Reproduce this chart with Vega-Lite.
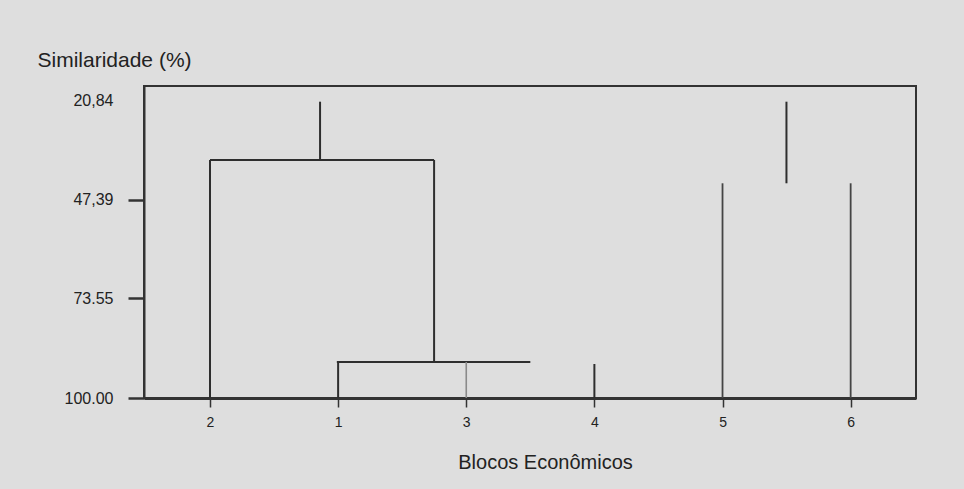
{
  "$schema": "https://vega.github.io/schema/vega-lite/v6.json",
  "width": 772,
  "height": 312,
  "autosize": {"type": "none"},
  "padding": {"left": 144, "top": 86, "right": 48, "bottom": 91},
  "background": "#dedede",
  "config": {
    "view": {"stroke": "#333333", "strokeWidth": 2},
    "font": "Liberation Sans"
  },
  "data": {
    "values": [
      {"tipo": "ramo", "x": 1.859, "x2": 1.859, "y": 21.27, "y2": 36.76},
      {"tipo": "ramo", "x": 1, "x2": 2.749, "y": 36.76, "y2": 36.76},
      {"tipo": "ramo", "x": 1, "x2": 1, "y": 36.76, "y2": 100},
      {"tipo": "ramo", "x": 2.749, "x2": 2.749, "y": 36.76, "y2": 90.43},
      {"tipo": "ramo", "x": 1.99, "x2": 3.5, "y": 90.43, "y2": 90.43},
      {"tipo": "ramo", "x": 2, "x2": 2, "y": 90.43, "y2": 100},
      {"tipo": "folha clara", "x": 3, "x2": 3, "y": 90.43, "y2": 100},
      {"tipo": "ramo", "x": 4, "x2": 4, "y": 90.97, "y2": 100},
      {"tipo": "folha", "x": 5, "x2": 5, "y": 42.95, "y2": 100},
      {"tipo": "folha", "x": 6, "x2": 6, "y": 42.95, "y2": 100},
      {"tipo": "ramo", "x": 5.499, "x2": 5.499, "y": 21.27, "y2": 42.95}
    ]
  },
  "mark": {"type": "rule"},
  "encoding": {
    "x": {
      "field": "x",
      "type": "quantitative",
      "scale": {"domain": [0.485, 6.51], "nice": false, "zero": false},
      "title": "Blocos Econômicos",
      "axis": {
        "values": [1, 2, 3, 4, 5, 6],
        "labelExpr": "['2','1','3','4','5','6'][datum.value - 1]",
        "grid": false,
        "domainColor": "#333333",
        "domainWidth": 3,
        "tickColor": "#333333",
        "tickWidth": 1.5,
        "tickSize": 9,
        "labelFontSize": 14,
        "labelColor": "#222222",
        "labelPadding": 8,
        "titleFontSize": 20,
        "titleFontWeight": "normal",
        "titleColor": "#222222",
        "titleX": 401,
        "titleY": 70,
        "titleAlign": "center",
        "titleBaseline": "alphabetic"
      }
    },
    "x2": {"field": "x2"},
    "y": {
      "field": "y",
      "type": "quantitative",
      "scale": {"domain": [17.1, 100], "nice": false, "zero": false, "reverse": true},
      "title": "Similaridade (%)",
      "axis": {
        "values": [20.84, 47.39, 73.55, 100],
        "labelExpr": "datum.value == 20.84 ? '20,84' : datum.value == 47.39 ? '47,39' : datum.value == 73.55 ? '73.55' : '100.00'",
        "grid": false,
        "domainColor": "#333333",
        "domainWidth": 2,
        "tickColor": "#333333",
        "tickWidth": 2.5,
        "tickSize": 16,
        "tickOpacity": {"condition": {"test": "datum.value < 30", "value": 0}, "value": 1},
        "labelFontSize": 16,
        "labelColor": "#222222",
        "labelPadding": 15,
        "titleFontSize": 21,
        "titleFontWeight": "normal",
        "titleColor": "#222222",
        "titleAngle": 0,
        "titleAlign": "left",
        "titleBaseline": "alphabetic",
        "titleX": -107,
        "titleY": -20
      }
    },
    "y2": {"field": "y2"},
    "color": {
      "field": "tipo",
      "type": "nominal",
      "scale": {"domain": ["ramo", "folha", "folha clara"], "range": ["#2e2e2e", "#444444", "#8a8a8a"]},
      "legend": null
    },
    "strokeWidth": {
      "field": "tipo",
      "type": "ordinal",
      "scale": {"domain": ["ramo", "folha", "folha clara"], "range": [2, 1.6, 1.4]},
      "legend": null
    }
  }
}
